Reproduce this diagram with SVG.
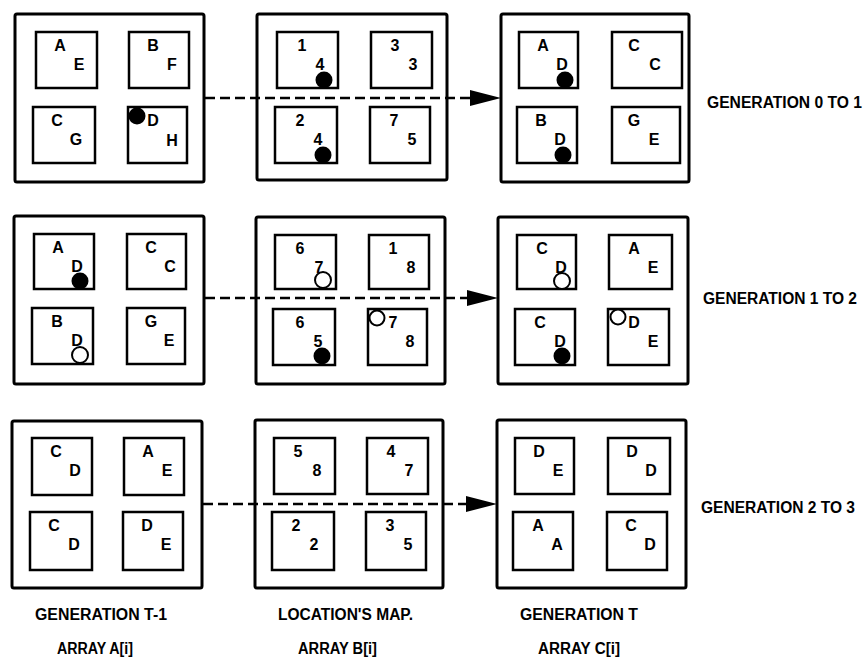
<svg xmlns="http://www.w3.org/2000/svg" width="864" height="663" viewBox="0 0 864 663">
<style>
.panel{fill:none;stroke:#000;stroke-width:3}
.cell{fill:none;stroke:#000;stroke-width:2.5}
.t{font-family:"Liberation Sans",Arial,sans-serif;font-weight:bold;font-size:16px;text-anchor:middle;fill:#000}
.lbl{font-family:"Liberation Sans",Arial,sans-serif;font-weight:bold;font-size:16px;fill:#000}
.dot{fill:#000}
.ring{fill:#fff;stroke:#000;stroke-width:2}
.dash{fill:none;stroke:#000;stroke-width:2.5;stroke-dasharray:10 5}
.head{fill:#000}
</style>
<rect width="864" height="663" fill="#fff"/>

<!-- Row 1 -->
<g id="r1-a">
<rect class="panel" x="15" y="14" width="189" height="168" rx="2"/>
<rect class="cell" x="36" y="32" width="61" height="56"/><text class="t" x="60" y="51">A</text><text class="t" x="79" y="70">E</text>
<rect class="cell" x="129" y="32" width="60" height="56"/><text class="t" x="153" y="51">B</text><text class="t" x="172" y="70">F</text>
<rect class="cell" x="33" y="107" width="62" height="56"/><text class="t" x="57" y="126">C</text><text class="t" x="76" y="145">G</text>
<rect class="cell" x="128" y="107" width="59" height="56"/><text class="t" x="153" y="126">D</text><text class="t" x="172" y="146">H</text>
<circle class="dot" cx="137" cy="116" r="8.5"/>
</g>
<g id="r1-b">
<rect class="panel" x="257" y="14" width="190" height="166" rx="2"/>
<rect class="cell" x="277" y="32" width="61" height="56"/><text class="t" x="302" y="51">1</text><text class="t" x="320" y="70">4</text>
<circle class="dot" cx="324" cy="80" r="8.5"/>
<rect class="cell" x="371" y="32" width="61" height="56"/><text class="t" x="395" y="51">3</text><text class="t" x="413" y="70">3</text>
<rect class="cell" x="275" y="107" width="62" height="56"/><text class="t" x="300" y="126">2</text><text class="t" x="318" y="145">4</text>
<circle class="dot" cx="323" cy="155" r="8.5"/>
<rect class="cell" x="370" y="107" width="60" height="56"/><text class="t" x="394" y="126">7</text><text class="t" x="412" y="145">5</text>
</g>
<g id="r1-c">
<rect class="panel" x="501" y="14" width="188" height="168" rx="2"/>
<rect class="cell" x="519" y="32" width="59" height="56"/><text class="t" x="543" y="51">A</text><text class="t" x="562" y="70">D</text>
<circle class="dot" cx="565" cy="80" r="8.5"/>
<rect class="cell" x="612" y="32" width="70" height="56"/><text class="t" x="634" y="51">C</text><text class="t" x="655" y="70">C</text>
<rect class="cell" x="517" y="107" width="60" height="56"/><text class="t" x="541" y="126">B</text><text class="t" x="560" y="145">D</text>
<circle class="dot" cx="563" cy="155" r="8.5"/>
<rect class="cell" x="612" y="107" width="68" height="56"/><text class="t" x="634" y="126">G</text><text class="t" x="654" y="145">E</text>
</g>

<!-- Row 2 -->
<g id="r2-a">
<rect class="panel" x="14" y="216" width="190" height="168" rx="2"/>
<rect class="cell" x="34" y="234" width="60" height="55"/><text class="t" x="58" y="253">A</text><text class="t" x="77" y="272">D</text>
<circle class="dot" cx="80" cy="281" r="8.5"/>
<rect class="cell" x="127" y="234" width="59" height="55"/><text class="t" x="151" y="253">C</text><text class="t" x="170" y="272">C</text>
<rect class="cell" x="32" y="308" width="61" height="56"/><text class="t" x="57" y="327">B</text><text class="t" x="77" y="346">D</text>
<circle class="ring" cx="80" cy="355" r="8"/>
<rect class="cell" x="127" y="308" width="58" height="56"/><text class="t" x="151" y="327">G</text><text class="t" x="169" y="346">E</text>
</g>
<g id="r2-b">
<rect class="panel" x="256" y="217" width="189" height="167" rx="2"/>
<rect class="cell" x="275" y="235" width="61" height="54"/><text class="t" x="300" y="254">6</text><text class="t" x="319" y="273">7</text>
<circle class="ring" cx="323" cy="280" r="8"/>
<rect class="cell" x="369" y="235" width="60" height="54"/><text class="t" x="393" y="254">1</text><text class="t" x="411" y="273">8</text>
<rect class="cell" x="273" y="309" width="62" height="56"/><text class="t" x="300" y="328">6</text><text class="t" x="318" y="347">5</text>
<circle class="dot" cx="322" cy="356" r="8.5"/>
<rect class="cell" x="368" y="309" width="59" height="56"/><text class="t" x="393" y="328">7</text><text class="t" x="410" y="347">8</text>
<circle class="ring" cx="377" cy="318" r="7.5"/>
</g>
<g id="r2-c">
<rect class="panel" x="498" y="217" width="190" height="167" rx="2"/>
<rect class="cell" x="517" y="235" width="59" height="54"/><text class="t" x="542" y="254">C</text><text class="t" x="561" y="273">D</text>
<circle class="ring" cx="562" cy="281" r="8"/>
<rect class="cell" x="609" y="235" width="63" height="54"/><text class="t" x="634" y="254">A</text><text class="t" x="653" y="273">E</text>
<rect class="cell" x="515" y="309" width="60" height="56"/><text class="t" x="540" y="328">C</text><text class="t" x="560" y="347">D</text>
<circle class="dot" cx="562" cy="356" r="8.5"/>
<rect class="cell" x="608" y="309" width="61" height="56"/><text class="t" x="634" y="328">D</text><text class="t" x="653" y="347">E</text>
<circle class="ring" cx="618" cy="317" r="7.5"/>
</g>

<!-- Row 3 -->
<g id="r3-a">
<rect class="panel" x="12" y="421" width="190" height="167" rx="2"/>
<rect class="cell" x="32" y="438" width="60" height="57"/><text class="t" x="56" y="457">C</text><text class="t" x="75" y="476">D</text>
<rect class="cell" x="124" y="438" width="60" height="57"/><text class="t" x="148" y="457">A</text><text class="t" x="167" y="476">E</text>
<rect class="cell" x="30" y="512" width="62" height="58"/><text class="t" x="54" y="531">C</text><text class="t" x="74" y="550">D</text>
<rect class="cell" x="123" y="512" width="60" height="58"/><text class="t" x="147" y="531">D</text><text class="t" x="166" y="550">E</text>
</g>
<g id="r3-b">
<rect class="panel" x="255" y="420" width="188" height="168" rx="2"/>
<rect class="cell" x="274" y="438" width="61" height="56"/><text class="t" x="298" y="457">5</text><text class="t" x="317" y="476">8</text>
<rect class="cell" x="367" y="438" width="61" height="56"/><text class="t" x="391" y="457">4</text><text class="t" x="409" y="476">7</text>
<rect class="cell" x="272" y="512" width="62" height="58"/><text class="t" x="296" y="531">2</text><text class="t" x="314" y="550">2</text>
<rect class="cell" x="366" y="512" width="60" height="58"/><text class="t" x="390" y="531">3</text><text class="t" x="408" y="550">5</text>
</g>
<g id="r3-c">
<rect class="panel" x="497" y="420" width="189" height="168" rx="2"/>
<rect class="cell" x="515" y="438" width="59" height="56"/><text class="t" x="539" y="457">D</text><text class="t" x="558" y="476">E</text>
<rect class="cell" x="608" y="438" width="62" height="56"/><text class="t" x="632" y="457">D</text><text class="t" x="651" y="476">D</text>
<rect class="cell" x="513" y="512" width="60" height="58"/><text class="t" x="538" y="531">A</text><text class="t" x="557" y="550">A</text>
<rect class="cell" x="607" y="512" width="60" height="58"/><text class="t" x="631" y="531">C</text><text class="t" x="650" y="550">D</text>
</g>

<!-- Connectors -->
<g id="connectors">
<line class="dash" x1="205" y1="98" x2="471" y2="98"/>
<polygon class="head" points="470,90 501,98 470,106"/>
<line class="dash" x1="205" y1="298" x2="468" y2="298"/>
<polygon class="head" points="467,290 498,298 467,306"/>
<line class="dash" x1="203" y1="504" x2="467" y2="504"/>
<polygon class="head" points="466,496 497,504 466,512"/>
</g>

<!-- Labels -->
<g id="labels">
<text class="lbl" x="707" y="108" textLength="155" lengthAdjust="spacingAndGlyphs">GENERATION 0 TO 1</text>
<text class="lbl" x="703" y="304" textLength="154" lengthAdjust="spacingAndGlyphs">GENERATION 1 TO 2</text>
<text class="lbl" x="701" y="513" textLength="154" lengthAdjust="spacingAndGlyphs">GENERATION 2 TO 3</text>
<text class="lbl" x="35" y="620" textLength="132" lengthAdjust="spacingAndGlyphs">GENERATION T-1</text>
<text class="lbl" x="278" y="620" textLength="135" lengthAdjust="spacingAndGlyphs">LOCATION'S MAP.</text>
<text class="lbl" x="520" y="620" textLength="118" lengthAdjust="spacingAndGlyphs">GENERATION T</text>
<text class="lbl" x="57" y="654" textLength="76" lengthAdjust="spacingAndGlyphs">ARRAY A[i]</text>
<text class="lbl" x="298" y="654" textLength="79" lengthAdjust="spacingAndGlyphs">ARRAY B[i]</text>
<text class="lbl" x="538" y="654" textLength="82" lengthAdjust="spacingAndGlyphs">ARRAY C[i]</text>
</g>
</svg>
